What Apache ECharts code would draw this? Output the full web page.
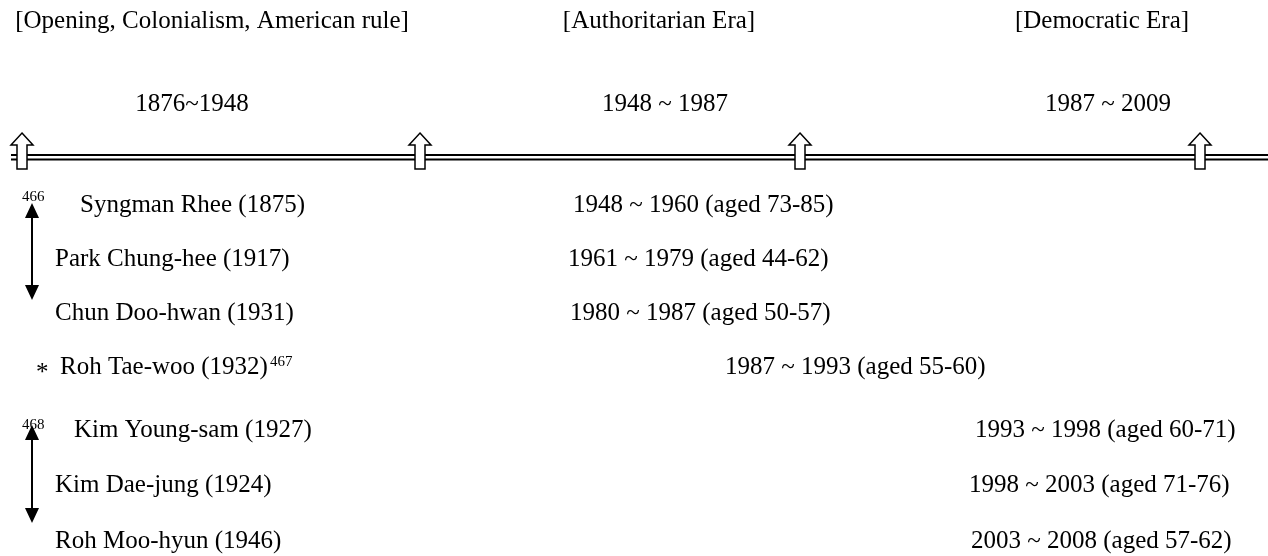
<!DOCTYPE html>
<html lang="en">
<head>
    <meta charset="UTF-8">
    <title>Korean presidents timeline</title>
    <style>
        *{ margin: 0; padding: 0;}
        body{ background: #fff;}
        #chart{ width: 1268px; height: 556px;}
    </style>
    <script src="https://cdn.jsdelivr.net/npm/echarts@6/dist/echarts.min.js"></script>
</head>
<body>
    <div id="chart"></div>
    <script>
        // data
        var eras = ['Opening, Colonialism, American rule', 'Authoritarian Era', 'Democratic Era'];
        var periodLabels = ['1876~1948', '1948 ~ 1987', '1987 ~ 2009'];
        var presidents = ['Syngman Rhee', 'Park Chung-hee', 'Chun Doo-hwan', 'Roh Tae-woo', 'Kim Young-sam', 'Kim Dae-jung', 'Roh Moo-hyun'];
        var birthYears = [1875, 1917, 1931, 1932, 1927, 1924, 1946];
        var termStart = [1948, 1961, 1980, 1987, 1993, 1998, 2003];
        var termEnd = [1960, 1979, 1987, 1993, 1998, 2003, 2008];
        var ageStart = [73, 44, 50, 55, 60, 71, 57];
        var ageEnd = [85, 62, 57, 60, 71, 76, 62];
        var footnotes = ['466', '467', '468'];

        // layout, in the pixel space of the hidden axes
        var W = 1268, H = 556;
        var eraX = [212, 659, 1102];
        var periodX = [192, 665, 1108];
        var headerY = 21, periodY = 104;
        var boundaryX = [22, 420, 800, 1200];
        var ruleY = [155, 159.5];
        var ruleX = [11, W];
        var nameX = [80, 55, 55, 60, 74, 55, 55];
        var termX = [573, 568, 570, 725, 975, 969, 971];
        var rowY = [205, 259, 313, 367, 430, 485, 541];
        var starX = 36;
        var noteX = 22;
        var vArrows = [[32, 203, 300], [32, 425, 523]];

        var FONT = 'Liberation Serif';
        var SIZE = 25;
        var NOTE_SIZE = 15;
        var INK = '#000';

        // all text items
        var texts = [];
        eras.forEach(function (e, i) {
            texts.push({ x: eraX[i], y: headerY, text: '[' + e + ']', align: 'center' });
            texts.push({ x: periodX[i], y: periodY, text: periodLabels[i], align: 'center' });
        });
        presidents.forEach(function (p, i) {
            var label = p + ' (' + birthYears[i] + ')';
            if (i === 3) {
                texts.push({ x: nameX[i], y: rowY[i], text: '{n|' + label + '}{s|' + footnotes[1] + '}', align: 'left' });
                texts.push({ x: starX, y: rowY[i] + 6, text: '*', align: 'left' });
            } else {
                texts.push({ x: nameX[i], y: rowY[i], text: label, align: 'left' });
            }
            texts.push({
                x: termX[i], y: rowY[i], align: 'left',
                text: termStart[i] + ' ~ ' + termEnd[i] + ' (aged ' + ageStart[i] + '-' + ageEnd[i] + ')'
            });
        });
        texts.push({ x: noteX, y: rowY[0] - 8, text: footnotes[0], align: 'left', size: NOTE_SIZE });
        texts.push({ x: noteX, y: rowY[4] - 5, text: footnotes[2], align: 'left', size: NOTE_SIZE });

        var myChart = echarts.init(document.getElementById('chart'), null, { renderer: 'canvas' });

        var option = {
            animation: false,
            backgroundColor: '#fff',
            textStyle: { fontFamily: FONT, color: INK },
            grid: { left: 0, right: 0, top: 0, bottom: 0 },
            xAxis: { type: 'value', min: 0, max: W, show: false },
            yAxis: { type: 'value', min: 0, max: H, inverse: true, show: false },
            series: [
                {
                    // double rule of the timeline
                    type: 'custom',
                    data: ruleY.map(function (y) { return [ruleX[0], y, ruleX[1]]; }),
                    renderItem: function (params, api) {
                        var a = api.coord([api.value(0), api.value(1)]);
                        var b = api.coord([api.value(2), api.value(1)]);
                        return {
                            type: 'line',
                            shape: { x1: a[0], y1: a[1], x2: b[0], y2: b[1] },
                            style: { stroke: INK, lineWidth: 2 }
                        };
                    },
                    z: 1
                },
                {
                    // hollow arrows at the era boundaries
                    type: 'custom',
                    data: boundaryX.map(function (x) { return [x, ruleY[0] + 2]; }),
                    renderItem: function (params, api) {
                        var c = api.coord([api.value(0), api.value(1)]);
                        var x = c[0], y = c[1];
                        var top = y - 24, neck = y - 12, bottom = y + 12;
                        return {
                            type: 'polygon',
                            shape: {
                                points: [
                                    [x, top], [x + 11, neck], [x + 5, neck], [x + 5, bottom],
                                    [x - 5, bottom], [x - 5, neck], [x - 11, neck]
                                ]
                            },
                            style: { fill: '#fff', stroke: INK, lineWidth: 1.5 }
                        };
                    },
                    z: 2
                },
                {
                    // two-headed arrows on the left
                    type: 'custom',
                    data: vArrows,
                    renderItem: function (params, api) {
                        var a = api.coord([api.value(0), api.value(1)]);
                        var b = api.coord([api.value(0), api.value(2)]);
                        var x = a[0];
                        return {
                            type: 'group',
                            children: [
                                {
                                    type: 'line',
                                    shape: { x1: x, y1: a[1] + 10, x2: x, y2: b[1] - 10 },
                                    style: { stroke: INK, lineWidth: 2 }
                                },
                                {
                                    type: 'polygon',
                                    shape: { points: [[x, a[1]], [x + 7, a[1] + 15], [x - 7, a[1] + 15]] },
                                    style: { fill: INK }
                                },
                                {
                                    type: 'polygon',
                                    shape: { points: [[x, b[1]], [x + 7, b[1] - 15], [x - 7, b[1] - 15]] },
                                    style: { fill: INK }
                                }
                            ]
                        };
                    },
                    z: 2
                },
                {
                    // every text of the diagram, as labels of invisible points
                    type: 'scatter',
                    symbolSize: 0,
                    silent: true,
                    z: 3,
                    label: { show: true, color: INK, opacity: 1 },
                    emphasis: { disabled: true },
                    data: texts.map(function (t) {
                        return {
                            value: [t.x, t.y],
                            label: {
                                show: true,
                                position: 'inside',
                                align: t.align,
                                verticalAlign: 'middle',
                                fontFamily: FONT,
                                fontSize: t.size || SIZE,
                                color: INK,
                                formatter: t.text,
                                rich: {
                                    n: { fontFamily: FONT, fontSize: SIZE, color: INK },
                                    s: { fontFamily: FONT, fontSize: NOTE_SIZE, color: INK, verticalAlign: 'top', padding: [0, 0, 0, 2] }
                                }
                            }
                        };
                    })
                }
            ]
        };
        myChart.setOption(option);
    </script>
</body>
</html>
